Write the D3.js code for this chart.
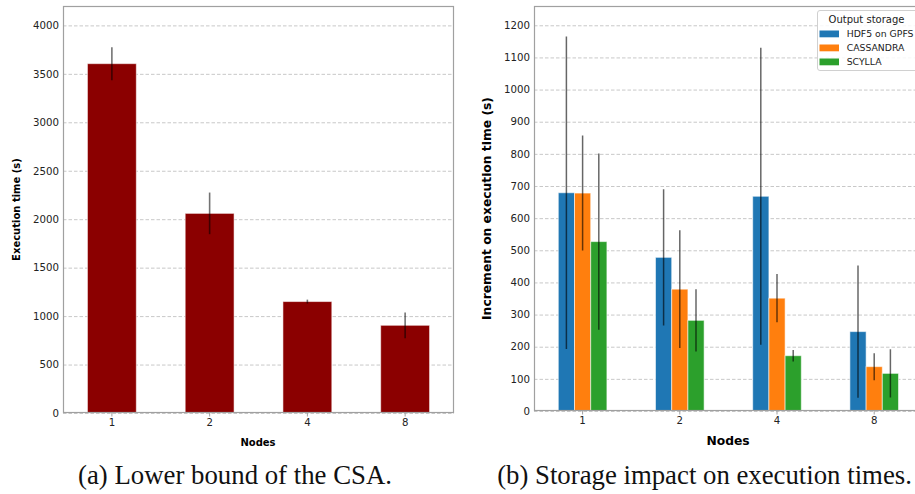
<!DOCTYPE html>
<html>
<head>
<meta charset="utf-8">
<script src="https://cdn.jsdelivr.net/npm/d3@7"></script>
<style>
  html, body { margin: 0; padding: 0; background: #fff; }
  svg { display: block; font-family: "DejaVu Sans", sans-serif; }
</style>
</head>
<body>
<svg id="chart" width="915" height="494"></svg>
<script>
// ---- Data ----
const nodes = ["1", "2", "4", "8"];

// (a) Lower bound of the CSA
const csaTime = [3605, 2060, 1150, 905];
const csaErr  = [170, 215, 20, 133];
const csaTicks = [0, 500, 1000, 1500, 2000, 2500, 3000, 3500, 4000];

// (b) Storage impact
const storageNames = ["HDF5 on GPFS", "CASSANDRA", "SCYLLA"];
const hdf5Vals  = [679, 478, 668, 247];
const hdf5Err   = [486, 212, 462, 206];
const cassVals  = [678, 379, 351, 138];
const cassErr   = [179, 183, 75, 42];
const scyllaVals = [527, 282, 172, 117];
const scyllaErr  = [274, 97, 18, 75];
const incTicks = [0, 100, 200, 300, 400, 500, 600, 700, 800, 900, 1000, 1100, 1200];

const captionA = "(a) Lower bound of the CSA.";
const captionB = "(b) Storage impact on execution times.";

// ---- Drawing ----
const svg = d3.select("#chart");
const frameColor = "#a0a0a0";
const gridColor = "#c8c8c8";
const colors = ["#1f77b4", "#ff7f0e", "#2ca02c"];

function panel(opts) {
  const g = svg.append("g");
  const x = d3.scaleBand().domain(nodes).range([opts.x0, opts.x1])
    .paddingInner(0.5).paddingOuter(0.25);
  const y = d3.scaleLinear().domain(opts.yDomain).range([opts.yBot, opts.yTop]);

  const clipId = "clip" + opts.id;
  svg.append("clipPath").attr("id", clipId).append("rect")
    .attr("x", opts.x0).attr("y", opts.yTop)
    .attr("width", opts.x1 - opts.x0).attr("height", opts.yBot - opts.yTop);

  // grid
  g.append("g").selectAll("line").data(opts.ticks).join("line")
    .attr("x1", opts.x0).attr("x2", opts.x1)
    .attr("y1", d => y(d) + 0.5).attr("y2", d => y(d) + 0.5)
    .attr("stroke", gridColor).attr("stroke-width", 1)
    .attr("stroke-dasharray", "3.5,2");

  const plot = g.append("g").attr("clip-path", `url(#${clipId})`);
  opts.drawBars(plot, x, y);

  // frame
  g.append("rect").attr("x", opts.x0 + 0.5).attr("y", opts.yTop + 0.5)
    .attr("width", opts.x1 - opts.x0 - 1).attr("height", opts.yBot - opts.yTop - 1)
    .attr("fill", "none").attr("stroke", frameColor).attr("stroke-width", 1.2);

  // y axis
  const ya = g.append("g").attr("transform", `translate(${opts.x0},0)`)
    .call(d3.axisLeft(y).tickValues(opts.ticks).tickFormat(d3.format("d"))
      .tickSize(0).tickPadding(4));
  ya.select(".domain").remove();
  ya.attr("font-family", null).attr("font-size", null);
  ya.selectAll("text").style("font-size", opts.tickFont + "px").attr("fill", "#222");

  // x axis
  const xa = g.append("g").attr("transform", `translate(0,${opts.yBot})`)
    .call(d3.axisBottom(x).tickSize(3.5).tickPadding(2));
  xa.select(".domain").remove();
  xa.attr("font-family", null).attr("font-size", null);
  xa.selectAll("line").attr("stroke", frameColor);
  xa.selectAll("text").style("font-size", opts.tickFont + "px").attr("fill", "#222");

  // axis labels
  g.append("text").attr("x", opts.xLabelX).attr("y", opts.xLabelY)
    .attr("text-anchor", "middle").attr("font-weight", "bold")
    .style("font-size", opts.labelFont + "px").text("Nodes");
  g.append("text")
    .attr("transform", `translate(${opts.yLabelX},${(opts.yTop + opts.yBot) / 2}) rotate(-90)`)
    .attr("text-anchor", "middle").attr("dominant-baseline", "central")
    .attr("font-weight", "bold").style("font-size", opts.labelFont + "px").text(opts.yLabel);
  return { g, x, y };
}

// Panel (a)
panel({
  id: "a", x0: 63, x1: 454, yTop: 6, yBot: 413, yDomain: [0, 4200],
  ticks: csaTicks, tickFont: 10.2, labelFont: 10,
  xLabelX: 258, xLabelY: 446, yLabelX: 16, yLabel: "Execution time (s)",
  drawBars(plot, x, y) {
    plot.selectAll("rect.bar").data(nodes).join("rect").attr("class", "bar")
      .attr("x", d => x(d)).attr("width", x.bandwidth())
      .attr("y", (d, i) => y(csaTime[i]))
      .attr("height", (d, i) => y(0) - y(csaTime[i]))
      .attr("fill", "#8b0000").attr("stroke", "rgba(255,255,255,0.55)").attr("stroke-width", 1);
    plot.selectAll("line.err").data(nodes).join("line").attr("class", "err")
      .attr("x1", d => x(d) + x.bandwidth() / 2).attr("x2", d => x(d) + x.bandwidth() / 2)
      .attr("y1", (d, i) => y(csaTime[i] + csaErr[i]))
      .attr("y2", (d, i) => y(csaTime[i] - csaErr[i]))
      .attr("stroke", "#000").attr("stroke-opacity", 0.55).attr("stroke-width", 1.6);
  }
});

// Panel (b)
const series = [
  { name: storageNames[0], vals: hdf5Vals, err: hdf5Err },
  { name: storageNames[1], vals: cassVals, err: cassErr },
  { name: storageNames[2], vals: scyllaVals, err: scyllaErr }
];
panel({
  id: "b", x0: 534, x1: 922.8, yTop: 6, yBot: 411, yDomain: [0, 1260],
  ticks: incTicks, tickFont: 10.2, labelFont: 12.3,
  xLabelX: 728, xLabelY: 445, yLabelX: 487, yLabel: "Increment on execution time (s)",
  drawBars(plot, x, y) {
    const xs = d3.scaleBand().domain(storageNames).range([0, x.bandwidth()]);
    series.forEach((s, si) => {
      plot.append("g").selectAll("rect").data(nodes).join("rect")
        .attr("x", d => x(d) + xs(s.name)).attr("width", xs.bandwidth())
        .attr("y", (d, i) => y(s.vals[i]))
        .attr("height", (d, i) => y(0) - y(s.vals[i]))
        .attr("fill", colors[si]).attr("stroke", "rgba(255,255,255,0.55)").attr("stroke-width", 1);
    });
    series.forEach((s) => {
      plot.append("g").selectAll("line").data(nodes).join("line")
        .attr("x1", d => x(d) + xs(s.name) + xs.bandwidth() / 2)
        .attr("x2", d => x(d) + xs(s.name) + xs.bandwidth() / 2)
        .attr("y1", (d, i) => y(s.vals[i] + s.err[i]))
        .attr("y2", (d, i) => y(Math.max(0, s.vals[i] - s.err[i])))
        .attr("stroke", "#000").attr("stroke-opacity", 0.6).attr("stroke-width", 1.5);
    });
  }
});

// Legend
const lg = svg.append("g").attr("transform", "translate(817,10)");
lg.append("rect").attr("x", 0.5).attr("y", 0.5).attr("width", 100).attr("height", 60)
  .attr("rx", 2.5).attr("fill", "rgba(255,255,255,0.85)").attr("stroke", "#d0d0d0");
lg.append("text").attr("x", 49.5).attr("y", 13).attr("text-anchor", "middle")
  .style("font-size", "10px").attr("fill", "#222").text("Output storage");
storageNames.forEach((n, i) => {
  lg.append("rect").attr("x", 2.5).attr("y", 20.5 + i * 14).attr("width", 19.5).attr("height", 6.8)
    .attr("fill", colors[i]);
  lg.append("text").attr("x", 29.7).attr("y", 27.3 + i * 14)
    .style("font-size", "9.3px").attr("fill", "#222").text(n);
});

// Captions
function caption(txt, cx, targetW) {
  const t = svg.append("text").attr("x", cx).attr("y", 484)
    .attr("text-anchor", "middle")
    .style("font-family", "'Liberation Serif', 'DejaVu Serif', serif")
    .style("font-size", "20px").attr("fill", "#111").text(txt);
  const w = t.node().getComputedTextLength();
  t.style("font-size", (20 * targetW / w) + "px");
}
caption(captionA, 235, 314);
caption(captionB, 704.5, 415);
</script>
</body>
</html>
